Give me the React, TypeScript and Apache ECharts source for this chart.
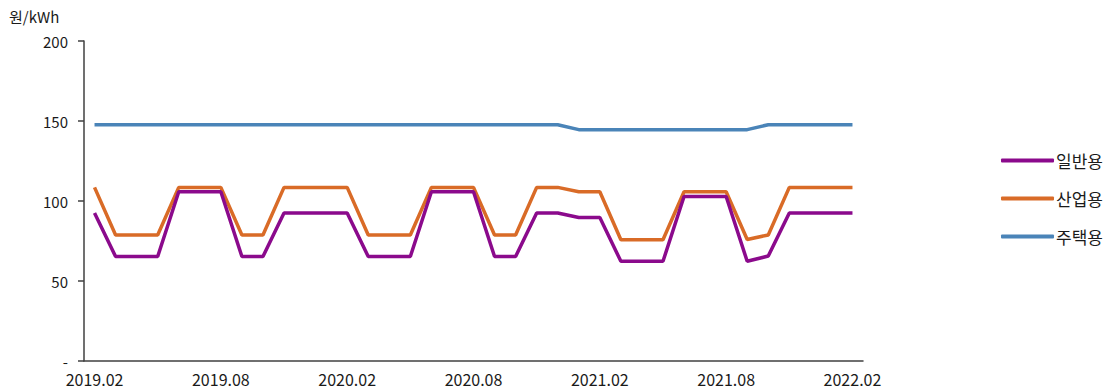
import React, { useEffect, useRef } from "react";
import * as echarts from "echarts";

const categories = [
  "2019.02", "2019.03", "2019.04", "2019.05", "2019.06", "2019.07", "2019.08", "2019.09", "2019.10", "2019.11", "2019.12",
  "2020.01", "2020.02", "2020.03", "2020.04", "2020.05", "2020.06", "2020.07", "2020.08", "2020.09", "2020.10", "2020.11", "2020.12",
  "2021.01", "2021.02", "2021.03", "2021.04", "2021.05", "2021.06", "2021.07", "2021.08", "2021.09", "2021.10", "2021.11", "2021.12",
  "2022.01", "2022.02",
];

const general = [
  92.5, 65.3, 65.3, 65.3, 105.8, 105.8, 105.8, 65.3, 65.3, 92.5, 92.5,
  92.5, 92.5, 65.3, 65.3, 65.3, 105.8, 105.8, 105.8, 65.3, 65.3, 92.5, 92.5,
  89.7, 89.7, 62.3, 62.3, 62.3, 102.8, 102.8, 102.8, 62.3, 65.6, 92.5, 92.5,
  92.5, 92.5,
];

const industrial = [
  108.5, 78.7, 78.7, 78.7, 108.5, 108.5, 108.5, 78.7, 78.7, 108.5, 108.5,
  108.5, 108.5, 78.7, 78.7, 78.7, 108.5, 108.5, 108.5, 78.7, 78.7, 108.5, 108.5,
  105.8, 105.8, 75.8, 75.8, 75.8, 105.8, 105.8, 105.8, 75.9, 78.8, 108.5, 108.5,
  108.5, 108.5,
];

const residential = [
  147.7, 147.7, 147.7, 147.7, 147.7, 147.7, 147.7, 147.7, 147.7, 147.7, 147.7,
  147.7, 147.7, 147.7, 147.7, 147.7, 147.7, 147.7, 147.7, 147.7, 147.7, 147.7, 147.7,
  144.6, 144.6, 144.6, 144.6, 144.6, 144.6, 144.6, 144.6, 144.6, 147.7, 147.7, 147.7,
  147.7, 147.7,
];

const seriesNames = ["일반용", "산업용", "주택용"];
const seriesColors = ["#8B0A8C", "#D96B27", "#4A84B8"];
const yTickLabels: Record<number, string> = { 0: "-", 50: "50", 100: "100", 150: "150", 200: "200" };
const yUnit = "원/kWh";

const FONT = "'Noto Sans CJK KR', 'Noto Sans', sans-serif";

export default function App() {
  const ref = useRef<HTMLDivElement>(null);
  useEffect(() => {
    document.body.style.margin = "0";
    if (!ref.current) return;
    const chart = echarts.init(ref.current, undefined, { renderer: "svg" });
    const dataSets = [general, industrial, residential];
    chart.setOption({
      animation: false,
      backgroundColor: "#ffffff",
      textStyle: { fontFamily: FONT },
      grid: { left: 84, right: 250, top: 41, bottom: 31, containLabel: false },
      graphic: [
        {
          type: "text",
          left: 9,
          top: 9,
          style: { text: yUnit, font: `15px ${FONT}`, fill: "#1a1a1a" },
        },
      ],
      legend: {
        orient: "vertical",
        left: 996,
        top: 147,
        itemWidth: 53,
        itemHeight: 4,
        itemGap: 21,
        icon: "roundRect",
        textStyle: { fontSize: 17, color: "#1a1a1a", fontFamily: FONT, padding: [0, 0, 0, -3] },
        data: seriesNames,
      },
      xAxis: {
        type: "category",
        data: categories,
        boundaryGap: true,
        axisLine: { lineStyle: { color: "#404040", width: 1.5 } },
        axisTick: { interval: 5, length: 5, lineStyle: { color: "#404040", width: 1.5 } },
        axisLabel: { interval: 5, fontSize: 16, color: "#1a1a1a", margin: 10, fontFamily: FONT },
        splitLine: { show: false },
      },
      yAxis: {
        type: "value",
        min: 0,
        max: 200,
        interval: 50,
        axisLine: { show: true, lineStyle: { color: "#404040", width: 1.5 } },
        axisTick: { show: true, length: 6, lineStyle: { color: "#404040", width: 1.5 } },
        axisLabel: {
          fontSize: 15,
          color: "#1a1a1a",
          margin: 16,
          fontFamily: FONT,
          formatter: (v: number) => yTickLabels[v] ?? String(v),
        },
        splitLine: { show: false },
      },
      series: seriesNames.map((name, i) => ({
        name,
        type: "line",
        data: dataSets[i],
        showSymbol: false,
        symbol: "none",
        color: seriesColors[i],
        lineStyle: { width: 3.5, color: seriesColors[i] },
        z: 3 - i,
      })),
    });
    return () => chart.dispose();
  }, []);
  return <div ref={ref} style={{ width: 1113, height: 392 }} />;
}
